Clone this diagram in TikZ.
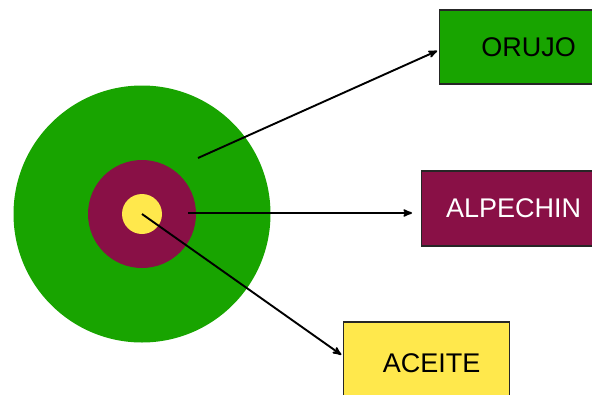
\documentclass[tikz,border=0pt]{standalone}
\usepackage{fontspec}
\setmainfont{Liberation Sans}
\usetikzlibrary{arrows,positioning}
\definecolor{verde}{RGB}{24,164,0}
\definecolor{granate}{RGB}{137,16,70}
\definecolor{amarillo}{RGB}{255,232,76}
\tikzset{
>=stealth',
  capa/.style={
    circle,
    draw=none,
    inner sep=0pt},
  caja/.style={
    rectangle,
    draw=black!85, line width=1.4pt,
    anchor=west,
    text centered,
    font=\fontsize{27}{30}\selectfont},
  flecha/.style={draw, line width=1.9pt, ->},
}

\begin{document}
\begin{tikzpicture}
  [x=1pt, y=-1pt]
  \useasboundingbox (0,0) rectangle (592,394);
  % the olive, from outside in
  \node[capa, fill=verde, minimum size=257pt] (orujo) at (142,214) {};
  \node[capa, fill=granate, minimum size=108pt] (alpechin) at (142,214) {};
  \node[capa, fill=amarillo, minimum size=40pt] (aceite) at (142,214) {};
  % the three products
  \node[caja, fill=verde, minimum width=178pt, minimum height=74pt] (orujobox) at (439,47) {ORUJO};
  \node[caja, fill=granate, text=white, minimum width=184pt, minimum height=75pt] (alpechinbox) at (421,208.5) {ALPECHIN};
  \node[caja, fill=amarillo, minimum width=166pt, minimum height=82pt] (aceitebox) at (343,363) {\hspace*{10pt}ACEITE};
  % start points of the arrows
  \coordinate (o1) at (198,158);
  \coordinate (a1) at (188,213);
  %% arrows
  \draw[flecha, shorten >=2pt] (o1) -- ([yshift=-3pt]orujobox.west);
  \draw[flecha, shorten >=9pt] (a1) -- (alpechinbox.west |- a1);
  \draw[flecha, shorten >=2pt] (aceite.center) -- ([yshift=7pt]aceitebox.west);
\end{tikzpicture}
\end{document}
